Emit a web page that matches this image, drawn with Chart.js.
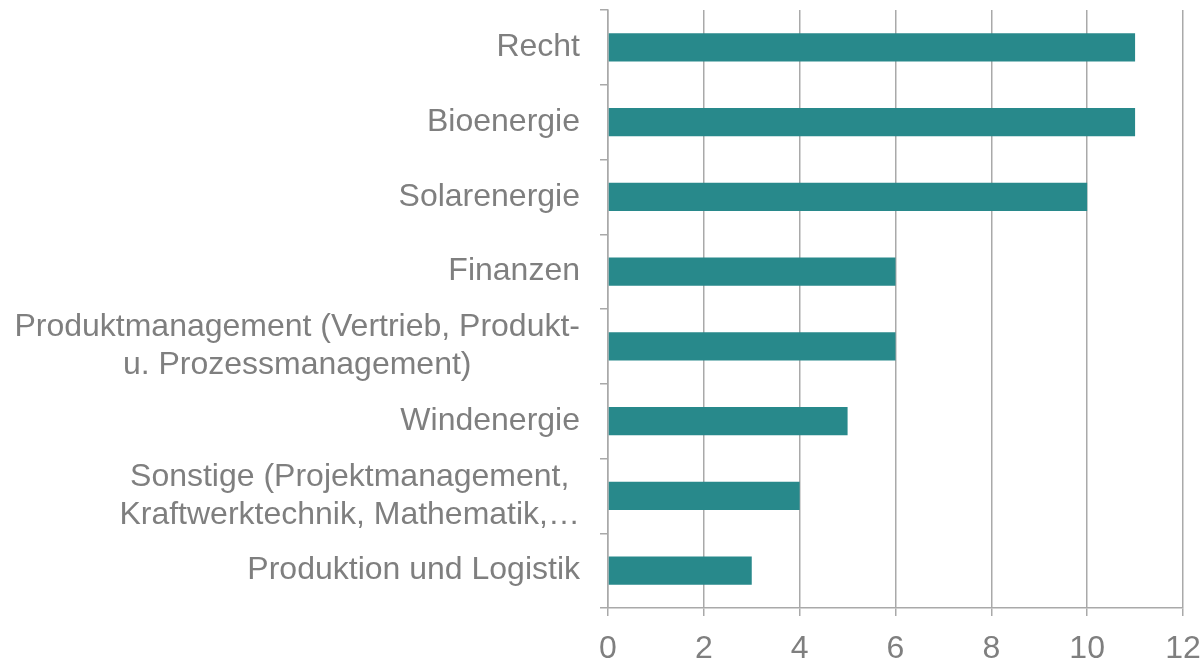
<!DOCTYPE html>
<html>
<head>
<meta charset="utf-8">
<script src="https://cdn.jsdelivr.net/npm/chart.js@4.4.0/dist/chart.umd.min.js"></script>
<style>
  html, body { margin: 0; padding: 0; background: #fff; }
  #wrap { width: 1204px; height: 659px; position: relative; }
</style>
</head>
<body>
<div id="wrap"><canvas id="bars"></canvas></div>
<script>
const categories = [
  'Recht',
  'Bioenergie',
  'Solarenergie',
  'Finanzen',
  ['Produktmanagement (Vertrieb, Produkt-', 'u. Prozessmanagement)'],
  'Windenergie',
  ['Sonstige (Projektmanagement,', 'Kraftwerktechnik, Mathematik,…'],
  'Produktion und Logistik'
];
const counts = [11, 11, 10, 6, 6, 5, 4, 3];
const xTicks = [0, 2, 4, 6, 8, 10, 12];

const textGray = '#7f7f7f';
const lineGray = '#a9a9a9';
const fontFamily = "'Liberation Sans', Arial, sans-serif";

// draws the category labels: single lines right aligned, wrapped ones centred as a block
const categoryLabels = {
  id: 'categoryLabels',
  afterDraw(chart) {
    const ctx = chart.ctx;
    const yScale = chart.scales.y;
    const right = yScale.right - 8 - 20;
    const lineH = 38;
    ctx.save();
    ctx.font = '32px ' + fontFamily;
    ctx.fillStyle = textGray;
    ctx.textBaseline = 'middle';
    ctx.textAlign = 'center';
    categories.forEach((lab, i) => {
      const lines = Array.isArray(lab) ? lab : [lab];
      const maxW = Math.max(...lines.map(l => ctx.measureText(l).width));
      const cx = right - maxW / 2;
      const cy = yScale.getPixelForTick(i);
      lines.forEach((l, j) => {
        ctx.fillText(l, cx, cy + (j - (lines.length - 1) / 2) * lineH);
      });
    });
    ctx.restore();
  }
};

new Chart(document.getElementById('bars'), {
  type: 'bar',
  data: {
    labels: categories,
    datasets: [{
      data: counts,
      backgroundColor: '#28898b',
      borderWidth: 0,
      categoryPercentage: 1,
      barPercentage: 0.38
    }]
  },
  plugins: [categoryLabels],
  options: {
    indexAxis: 'y',
    responsive: true,
    maintainAspectRatio: false,
    animation: false,
    layout: { padding: { top: 10, right: 21, left: 0, bottom: 0 } },
    plugins: {
      legend: { display: false },
      tooltip: { enabled: false }
    },
    scales: {
      x: {
        min: 0,
        max: 12,
        afterBuildTicks: axis => { axis.ticks = xTicks.map(v => ({ value: v })); },
        afterFit: axis => {
          axis.height = 51;
          axis.paddingLeft = 0;
          axis.paddingRight = 0;
        },
        grid: { color: lineGray, lineWidth: 1.5, tickLength: 8, drawTicks: true },
        border: { color: lineGray, width: 1.5 },
        ticks: {
          color: textGray,
          padding: 14,
          font: { family: fontFamily, size: 32 }
        }
      },
      y: {
        afterFit: axis => { axis.width = 608; },
        grid: { drawOnChartArea: false, color: lineGray, lineWidth: 1.5, tickLength: 8, offset: true },
        border: { color: lineGray, width: 1.5 },
        ticks: { display: false }
      }
    }
  }
});
</script>
</body>
</html>
